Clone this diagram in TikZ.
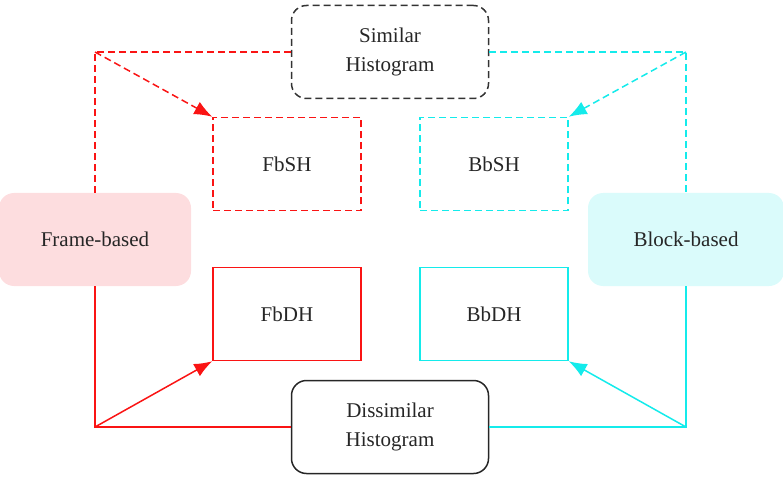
\documentclass[tikz,border=0pt]{standalone}
\usepackage{fontspec}
\setmainfont{Liberation Serif}
\usetikzlibrary{arrows.meta}
\definecolor{pinkfill}{RGB}{253,221,223}
\definecolor{cyanfill}{RGB}{218,251,251}
\definecolor{aqua}{RGB}{20,235,235}
\definecolor{redline}{RGB}{250,20,20}
\begin{document}
\begin{tikzpicture}[x=1pt,y=-1pt,font=\fontsize{21}{29}\selectfont,
  box/.style={draw,line width=1.5pt,minimum width=148pt,minimum height=93pt,inner sep=0pt,text=black!85},
  hist/.style={draw,line width=1.5pt,rounded corners=15pt,minimum width=197pt,minimum height=93pt,align=center,inner sep=0pt,text=black!85},
  base/.style={rounded corners=15pt,minimum height=93pt,inner sep=0pt,text=black!85},
  dsh/.style={dash pattern=on 7pt off 4pt},
  link/.style={line width=1.5pt},
  tip/.style={-{Latex[length=18pt,width=14pt]}}]
\useasboundingbox (0,0) rectangle (783,478);

\node[hist,draw=black!80,dsh] (sim) at(390,52) {Similar\\Histogram};
\node[hist,draw=black!85] (dis) at(390,427) {Dissimilar\\Histogram};

\node[base,fill=pinkfill,minimum width=192pt] (fb) at(95,239.5) {Frame-based};
\node[base,fill=cyanfill,minimum width=196pt] (bb) at(686,239.5) {Block-based};

\node[box,draw=redline,dsh] (fbsh) at(287,164) {FbSH};
\node[box,draw=aqua,dsh] (bbsh) at(494,164) {BbSH};
\node[box,draw=redline] (fbdh) at(287,314) {FbDH};
\node[box,draw=aqua] (bbdh) at(494,314) {BbDH};

% corners of the connectors
\coordinate (ftop) at (fb.north |- sim.west);
\coordinate (btop) at (bb.north |- sim.east);
\coordinate (fbot) at (fb.south |- dis.west);
\coordinate (bbot) at (bb.south |- dis.east);

\draw[link,redline,dsh] (sim.west)--(ftop)--(fb.north);
\draw[link,redline,dsh,tip] (ftop)--(fbsh.north west);
\draw[link,aqua,dsh] (sim.east)--(btop)--(bb.north);
\draw[link,aqua,dsh,tip] (btop)--(bbsh.north east);

\draw[link,redline] (fb.south)--(fbot)--(dis.west);
\draw[link,redline,tip] (fbot)--(fbdh.south west);
\draw[link,aqua] (bb.south)--(bbot)--(dis.east);
\draw[link,aqua,tip] (bbot)--(bbdh.south east);

\end{tikzpicture}
\end{document}
